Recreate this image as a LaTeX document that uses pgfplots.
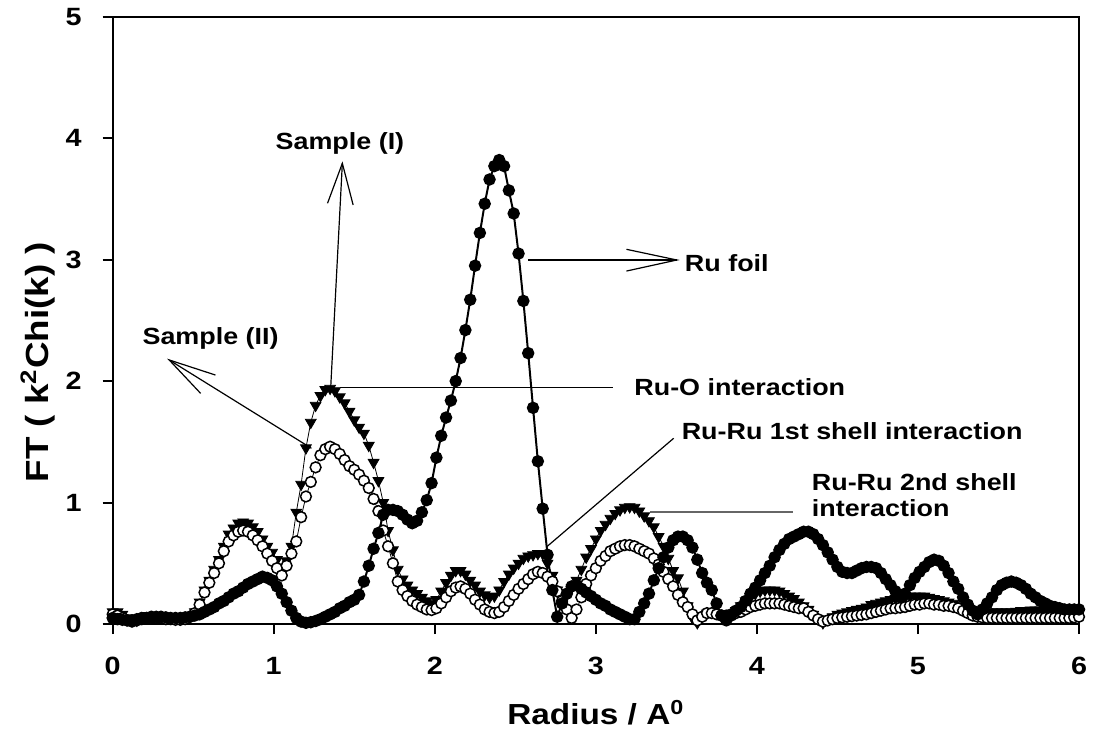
\documentclass[border=0pt]{standalone}
\usepackage{fontspec}
\setmainfont[FakeStretch=1.15]{Liberation Sans}
\usepackage{pgfplots}
\pgfplotsset{compat=1.18}
\begin{document}
\begin{tikzpicture}
\begin{axis}[
  scale only axis, width=483.2pt, height=303.7pt,
  xmin=0, xmax=6, ymin=0, ymax=5,
  xtick={0,1,2,3,4,5,6}, ytick={0,1,2,3,4,5},
  axis line style={line width=1pt},
  tick style={line width=1pt, black},
  tick align=outside, tick pos=left, major tick length=5pt,
  ticklabel style={font=\fontsize{12.5}{14}\selectfont\bfseries},
  /pgf/number format/assume math mode=true,
  xticklabel style={yshift=-8pt},
  yticklabel style={xshift=-7pt},
  xlabel={Radius / A\textsuperscript{0}},
  ylabel={FT ( k\textsuperscript{2}Chi(k) )},
  label style={font=\fontsize{14.5}{16}\selectfont\bfseries},
  xlabel style={at={(rel axis cs:0.5,-0.166)}, anchor=base},
  ylabel style={at={(rel axis cs:-0.0773,0.431)}, anchor=center, font=\fontsize{16}{18}\selectfont\bfseries},
  clip=false,
]
% Sample (I)
\addplot[black, line width=0.4pt, mark=triangle*, mark size=3.1pt,
  mark options={rotate=180, fill=black, line width=0.4pt}] coordinates {
(0.00,0.10) (0.03,0.10) (0.06,0.08) (0.09,0.05) (0.12,0.03) (0.15,0.03) (0.18,0.05) (0.21,0.07) (0.24,0.07) (0.27,0.07)
(0.30,0.06) (0.33,0.05) (0.36,0.05) (0.39,0.04) (0.42,0.04) (0.45,0.05) (0.48,0.07) (0.51,0.10) (0.54,0.18) (0.57,0.28)
(0.60,0.36) (0.63,0.45) (0.66,0.53) (0.69,0.64) (0.72,0.74) (0.75,0.79) (0.78,0.83) (0.81,0.84) (0.84,0.83) (0.87,0.80)
(0.90,0.76) (0.93,0.70) (0.96,0.64) (0.99,0.59) (1.02,0.53) (1.05,0.46) (1.08,0.52) (1.11,0.64) (1.14,0.92) (1.17,1.15)
(1.20,1.45) (1.23,1.66) (1.26,1.80) (1.29,1.88) (1.32,1.93) (1.35,1.94) (1.38,1.92) (1.41,1.87) (1.44,1.82) (1.47,1.75)
(1.50,1.68) (1.53,1.62) (1.56,1.57) (1.59,1.47) (1.62,1.33) (1.65,1.18) (1.68,1.00) (1.71,0.77) (1.74,0.61) (1.77,0.45)
(1.80,0.37) (1.83,0.32) (1.86,0.28) (1.89,0.25) (1.92,0.22) (1.95,0.19) (1.98,0.17) (2.01,0.20) (2.04,0.27) (2.07,0.34)
(2.10,0.40) (2.13,0.44) (2.16,0.44) (2.19,0.41) (2.22,0.36) (2.25,0.32) (2.28,0.27) (2.31,0.24) (2.34,0.22) (2.37,0.23)
(2.40,0.28) (2.43,0.35) (2.46,0.41) (2.49,0.46) (2.52,0.50) (2.55,0.54) (2.58,0.56) (2.61,0.57) (2.64,0.58) (2.67,0.58)
(2.70,0.50) (2.73,0.40) (2.76,0.28) (2.79,0.20) (2.82,0.24) (2.85,0.30) (2.88,0.36) (2.91,0.45) (2.94,0.55) (2.97,0.62)
(3.00,0.70) (3.03,0.77) (3.06,0.82) (3.09,0.87) (3.12,0.91) (3.15,0.94) (3.18,0.96) (3.21,0.965) (3.24,0.96) (3.27,0.93)
(3.30,0.89) (3.33,0.85) (3.36,0.80) (3.39,0.72) (3.42,0.64) (3.45,0.54) (3.48,0.44) (3.51,0.38) (3.54,0.27) (3.57,0.15)
(3.60,0.05) (3.63,0.01) (3.66,0.06) (3.69,0.09) (3.72,0.10) (3.75,0.09) (3.78,0.07) (3.81,0.06) (3.84,0.08) (3.87,0.11)
(3.90,0.15) (3.93,0.19) (3.96,0.22) (3.99,0.25) (4.02,0.27) (4.05,0.28) (4.08,0.28) (4.11,0.28) (4.14,0.27) (4.17,0.25)
(4.20,0.23) (4.23,0.21) (4.26,0.18) (4.29,0.15) (4.32,0.12) (4.35,0.08) (4.38,0.04) (4.41,0.01) (4.44,0.04) (4.47,0.06)
(4.50,0.08) (4.53,0.09) (4.56,0.10) (4.59,0.11) (4.62,0.12) (4.65,0.13) (4.68,0.14) (4.71,0.16) (4.74,0.17) (4.77,0.18)
(4.80,0.19) (4.83,0.20) (4.86,0.21) (4.89,0.22) (4.92,0.22) (4.95,0.23) (4.98,0.23) (5.01,0.23) (5.04,0.23) (5.07,0.22)
(5.10,0.21) (5.13,0.20) (5.16,0.19) (5.19,0.18) (5.22,0.17) (5.25,0.15) (5.28,0.14) (5.31,0.12) (5.34,0.115) (5.37,0.11)
(5.40,0.10) (5.43,0.10) (5.46,0.10) (5.49,0.10) (5.52,0.10) (5.55,0.10) (5.58,0.10) (5.61,0.105) (5.64,0.11) (5.67,0.11)
(5.70,0.115) (5.73,0.115) (5.76,0.115) (5.79,0.115) (5.82,0.11) (5.85,0.11) (5.88,0.11) (5.91,0.10) (5.94,0.10) (5.97,0.10)
(6.00,0.10)
};
% Sample (II)
\addplot[black, line width=0.4pt, mark=*, mark size=2.7pt,
  mark options={fill=white, draw=black, line width=0.75pt}] coordinates {
(0.00,0.08) (0.03,0.07) (0.06,0.05) (0.09,0.03) (0.12,0.02) (0.15,0.03) (0.18,0.04) (0.21,0.05) (0.24,0.05) (0.27,0.05)
(0.30,0.05) (0.33,0.04) (0.36,0.04) (0.39,0.035) (0.42,0.035) (0.45,0.04) (0.48,0.06) (0.51,0.09) (0.54,0.16) (0.57,0.26)
(0.60,0.34) (0.63,0.42) (0.66,0.50) (0.69,0.60) (0.72,0.68) (0.75,0.73) (0.78,0.76) (0.81,0.77) (0.84,0.76) (0.87,0.73)
(0.90,0.69) (0.93,0.64) (0.96,0.58) (0.99,0.52) (1.02,0.46) (1.05,0.40) (1.08,0.48) (1.11,0.58) (1.14,0.68) (1.17,0.88)
(1.20,1.05) (1.23,1.17) (1.26,1.29) (1.29,1.39) (1.32,1.44) (1.35,1.46) (1.38,1.44) (1.41,1.40) (1.44,1.35) (1.47,1.30)
(1.50,1.27) (1.53,1.23) (1.56,1.18) (1.59,1.12) (1.62,1.03) (1.65,0.93) (1.68,0.77) (1.71,0.64) (1.74,0.50) (1.77,0.35)
(1.80,0.28) (1.83,0.23) (1.86,0.19) (1.89,0.16) (1.92,0.14) (1.95,0.12) (1.98,0.115) (2.01,0.13) (2.04,0.17) (2.07,0.22)
(2.10,0.27) (2.13,0.30) (2.16,0.31) (2.19,0.29) (2.22,0.25) (2.25,0.20) (2.28,0.16) (2.31,0.12) (2.34,0.10) (2.37,0.09)
(2.40,0.10) (2.43,0.14) (2.46,0.19) (2.49,0.24) (2.52,0.29) (2.55,0.33) (2.58,0.37) (2.61,0.41) (2.64,0.43) (2.67,0.42)
(2.70,0.39) (2.73,0.35) (2.76,0.27) (2.79,0.19) (2.82,0.12) (2.85,0.05) (2.88,0.12) (2.91,0.22) (2.94,0.33) (2.97,0.40)
(3.00,0.46) (3.03,0.52) (3.06,0.56) (3.09,0.60) (3.12,0.62) (3.15,0.64) (3.18,0.65) (3.21,0.65) (3.24,0.64) (3.27,0.62)
(3.30,0.60) (3.33,0.58) (3.36,0.54) (3.39,0.49) (3.42,0.43) (3.45,0.37) (3.48,0.31) (3.51,0.24) (3.54,0.18) (3.57,0.14)
(3.60,0.08) (3.63,0.03) (3.66,0.06) (3.69,0.09) (3.72,0.09) (3.75,0.08) (3.78,0.07) (3.81,0.07) (3.84,0.08) (3.87,0.09)
(3.90,0.10) (3.93,0.12) (3.96,0.14) (3.99,0.15) (4.02,0.16) (4.05,0.17) (4.08,0.17) (4.11,0.17) (4.14,0.17) (4.17,0.16)
(4.20,0.15) (4.23,0.14) (4.26,0.13) (4.29,0.13) (4.32,0.10) (4.35,0.07) (4.38,0.04) (4.41,0.02) (4.44,0.03) (4.47,0.04)
(4.50,0.05) (4.53,0.055) (4.56,0.06) (4.59,0.065) (4.62,0.07) (4.65,0.075) (4.68,0.08) (4.71,0.09) (4.74,0.10) (4.77,0.11)
(4.80,0.12) (4.83,0.13) (4.86,0.13) (4.89,0.135) (4.92,0.14) (4.95,0.15) (4.98,0.16) (5.01,0.16) (5.04,0.17) (5.07,0.17)
(5.10,0.16) (5.13,0.16) (5.16,0.15) (5.19,0.15) (5.22,0.14) (5.25,0.13) (5.28,0.11) (5.31,0.09) (5.34,0.07) (5.37,0.06)
(5.40,0.055) (5.43,0.05) (5.46,0.05) (5.49,0.05) (5.52,0.05) (5.55,0.05) (5.58,0.05) (5.61,0.05) (5.64,0.05) (5.67,0.05)
(5.70,0.05) (5.73,0.05) (5.76,0.05) (5.79,0.05) (5.82,0.05) (5.85,0.05) (5.88,0.05) (5.91,0.05) (5.94,0.05) (5.97,0.055)
(6.00,0.06)
};
% Ru foil
\addplot[black, line width=1pt, mark=*, mark size=2.6pt, mark options={fill=black}] coordinates {
(0.00,0.05) (0.03,0.04) (0.06,0.035) (0.09,0.03) (0.12,0.03) (0.15,0.04) (0.18,0.05) (0.21,0.05) (0.24,0.06) (0.27,0.06)
(0.30,0.06) (0.33,0.055) (0.36,0.05) (0.39,0.05) (0.42,0.05) (0.45,0.055) (0.48,0.06) (0.51,0.07) (0.54,0.08) (0.57,0.10)
(0.60,0.12) (0.63,0.14) (0.66,0.17) (0.69,0.19) (0.72,0.22) (0.75,0.25) (0.78,0.27) (0.81,0.30) (0.84,0.33) (0.87,0.35)
(0.90,0.37) (0.93,0.39) (0.96,0.38) (0.99,0.36) (1.02,0.31) (1.05,0.25) (1.08,0.18) (1.11,0.11) (1.14,0.05) (1.17,0.02)
(1.20,0.01) (1.23,0.015) (1.26,0.025) (1.29,0.04) (1.32,0.06) (1.35,0.08) (1.38,0.10) (1.41,0.13) (1.44,0.15) (1.47,0.18)
(1.50,0.20) (1.53,0.24) (1.56,0.35) (1.59,0.48) (1.62,0.62) (1.65,0.75) (1.68,0.90) (1.71,0.94) (1.74,0.94) (1.77,0.93)
(1.80,0.90) (1.83,0.86) (1.86,0.83) (1.89,0.85) (1.92,0.92) (1.95,1.02) (1.98,1.16) (2.01,1.37) (2.04,1.55) (2.07,1.70)
(2.10,1.84) (2.13,2.00) (2.16,2.19) (2.19,2.42) (2.22,2.67) (2.25,2.95) (2.28,3.22) (2.31,3.46) (2.34,3.66) (2.37,3.77)
(2.40,3.82) (2.43,3.77) (2.46,3.57) (2.49,3.38) (2.52,3.05) (2.55,2.66) (2.58,2.23) (2.61,1.78) (2.64,1.34) (2.67,0.95)
(2.70,0.57) (2.73,0.28) (2.76,0.06) (2.79,0.17) (2.82,0.25) (2.85,0.31) (2.88,0.32) (2.91,0.29) (2.94,0.26) (2.97,0.23)
(3.00,0.20) (3.03,0.17) (3.06,0.15) (3.09,0.12) (3.12,0.10) (3.15,0.08) (3.18,0.06) (3.21,0.04) (3.24,0.04) (3.27,0.10)
(3.30,0.17) (3.33,0.25) (3.36,0.36) (3.39,0.46) (3.42,0.55) (3.45,0.63) (3.48,0.69) (3.51,0.72) (3.54,0.72) (3.57,0.69)
(3.60,0.63) (3.63,0.53) (3.66,0.42) (3.69,0.34) (3.72,0.28) (3.75,0.17) (3.78,0.07) (3.81,0.03) (3.84,0.07) (3.87,0.11)
(3.90,0.14) (3.93,0.19) (3.96,0.25) (3.99,0.30) (4.02,0.36) (4.05,0.42) (4.08,0.48) (4.11,0.55) (4.14,0.61) (4.17,0.66)
(4.20,0.70) (4.23,0.72) (4.26,0.74) (4.29,0.76) (4.32,0.76) (4.35,0.74) (4.38,0.70) (4.41,0.65) (4.44,0.59) (4.47,0.53)
(4.50,0.47) (4.53,0.43) (4.56,0.42) (4.59,0.42) (4.62,0.44) (4.65,0.46) (4.68,0.47) (4.71,0.47) (4.74,0.46) (4.77,0.42)
(4.80,0.37) (4.83,0.32) (4.86,0.27) (4.89,0.22) (4.92,0.25) (4.95,0.32) (4.98,0.38) (5.01,0.43) (5.04,0.47) (5.07,0.51)
(5.10,0.53) (5.13,0.52) (5.16,0.48) (5.19,0.42) (5.22,0.35) (5.25,0.29) (5.28,0.22) (5.31,0.16) (5.34,0.11) (5.37,0.08)
(5.40,0.12) (5.43,0.17) (5.46,0.22) (5.49,0.28) (5.52,0.32) (5.55,0.34) (5.58,0.35) (5.61,0.34) (5.64,0.32) (5.67,0.29)
(5.70,0.25) (5.73,0.22) (5.76,0.19) (5.79,0.17) (5.82,0.15) (5.85,0.14) (5.88,0.13) (5.91,0.12) (5.94,0.12) (5.97,0.12)
(6.00,0.12)
};
% annotations
\tikzset{ann/.style={line width=0.6pt, black}, anntext/.style={font=\fontsize{11.7}{13.3}\selectfont\bfseries, inner sep=0pt}}
% Sample (I)
\draw[ann] (axis cs:1.354,1.954) -- (axis cs:1.426,3.793);
\draw[ann] (axis cs:1.334,3.464) -- (axis cs:1.426,3.793) -- (axis cs:1.493,3.450);
\node[anntext] at (axis cs:1.411,3.96) {Sample (I)};
% Sample (II)
\draw[ann] (axis cs:1.234,1.447) -- (axis cs:0.351,2.174);
\draw[ann] (axis cs:0.638,2.050) -- (axis cs:0.351,2.174) -- (axis cs:0.546,1.899);
\node[anntext] at (axis cs:0.608,2.355) {Sample (II)};
% Ru foil
\draw[ann] (axis cs:2.58,2.997) -- (axis cs:3.503,2.997);
\draw[ann] (axis cs:3.19,3.085) -- (axis cs:3.503,2.997) -- (axis cs:3.19,2.906);
\node[anntext, anchor=west] at (axis cs:3.551,2.970) {Ru foil};
% Ru-O
\draw[ann] (axis cs:1.414,1.949) -- (axis cs:3.105,1.949);
\node[anntext, anchor=west] at (axis cs:3.237,1.949) {Ru-O interaction};
% Ru-Ru 1st shell
\draw[ann] (axis cs:3.483,1.529) -- (axis cs:2.695,0.636);
\node[anntext, anchor=west] at (axis cs:3.531,1.591) {Ru-Ru 1st shell interaction};
% Ru-Ru 2nd shell
\draw[line width=1pt, black!60] (axis cs:3.336,0.925) -- (axis cs:4.226,0.925);
\node[anntext, anchor=west, align=left] at (axis cs:4.339,1.062) {Ru-Ru 2nd shell\\interaction};
\coordinate (ll) at (rel axis cs:0,0);
\coordinate (ur) at (rel axis cs:1,1);
\end{axis}
\pgfresetboundingbox
\path ([shift={(-56.35pt,-54.5pt)}]ll) rectangle ([shift={(7pt,8.35pt)}]ur);
\end{tikzpicture}
\end{document}
